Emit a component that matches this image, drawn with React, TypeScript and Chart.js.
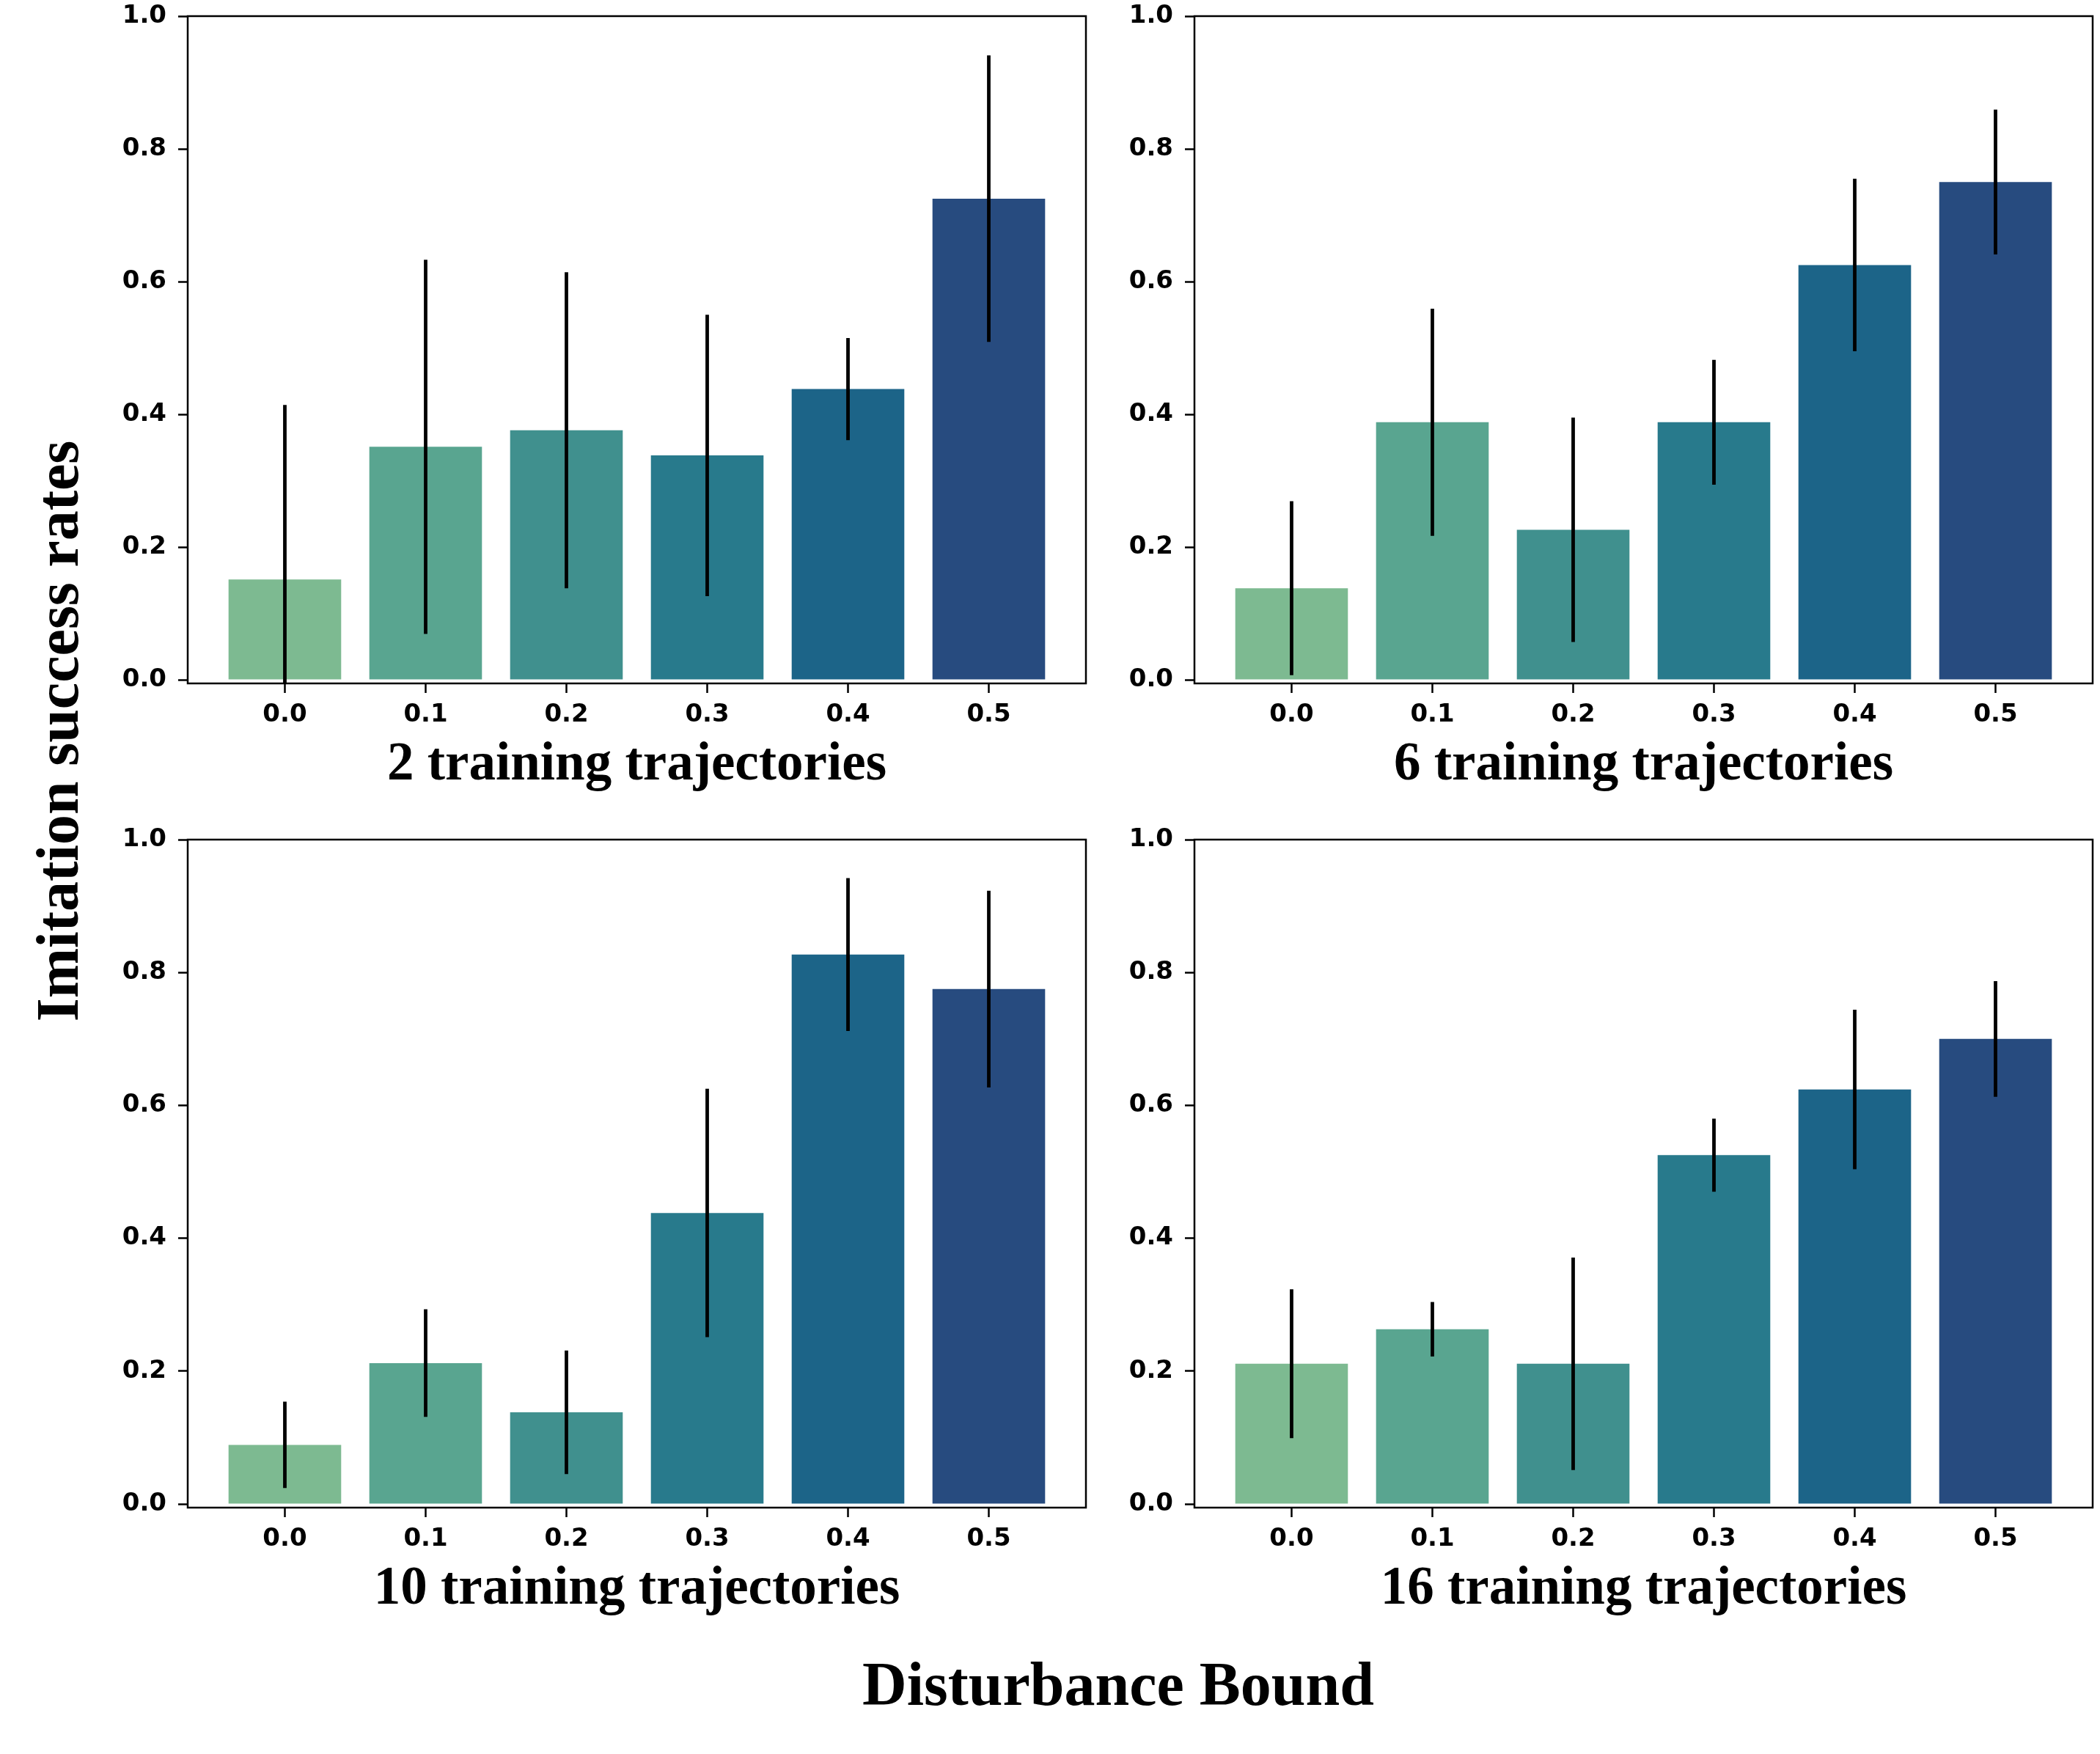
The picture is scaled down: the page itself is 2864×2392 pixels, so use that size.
import { useEffect, useRef } from "react"
import { Chart, registerables } from "chart.js"

Chart.register(...registerables)

// disturbance bounds (bar positions) and their tick labels
const boundIndex = [0, 1, 2, 3, 4, 5]
const boundLabels = ["0.0", "0.1", "0.2", "0.3", "0.4", "0.5"]
const yTicks = [0, 0.2, 0.4, 0.6, 0.8, 1.0]
const yTickLabels = ["0.0", "0.2", "0.4", "0.6", "0.8", "1.0"]

// seaborn "crest"-like palette, one colour per bound
const barColors = ["#7dba91", "#59a590", "#40908e", "#287a8c", "#1c6488", "#274b7f"]

// success rate means and error bar half-widths
const rates2 = [0.151, 0.351, 0.376, 0.338, 0.438, 0.725]
const errors2 = [0.263, 0.282, 0.238, 0.212, 0.077, 0.216]
const rates6 = [0.138, 0.388, 0.226, 0.388, 0.625, 0.75]
const errors6 = [0.131, 0.171, 0.169, 0.094, 0.13, 0.109]
const rates10 = [0.089, 0.212, 0.138, 0.438, 0.827, 0.775]
const errors10 = [0.065, 0.081, 0.093, 0.187, 0.115, 0.148]
const rates16 = [0.211, 0.263, 0.211, 0.525, 0.624, 0.7]
const errors16 = [0.112, 0.041, 0.16, 0.055, 0.12, 0.087]

const panelTitles = [
  "2 training trajectories",
  "6 training trajectories",
  "10 training trajectories",
  "16 training trajectories",
]

const SERIF = '"Liberation Serif", "Times New Roman", serif'
const SANS = '"DejaVu Sans", sans-serif'

// layout (pixels)
const AXES_W = 1225
const Y_AXIS_W = 110
const PAD_TOP = 60
const PAD_RIGHT = 12
const X_AXIS_H = 156

type PanelProps = {
  title: string
  rates: number[]
  errors: number[]
  left: number
  top: number
  height: number
}

function Panel({ title, rates, errors, left, top, height }: PanelProps) {
  const chartRef = useRef<HTMLCanvasElement>(null)
  const chartInstance = useRef<Chart | null>(null)

  useEffect(() => {
    if (!chartRef.current) return
    if (chartInstance.current) chartInstance.current.destroy()

    const errorBars = {
      id: "errorBars",
      afterDatasetsDraw(chart: any) {
        const { ctx, chartArea, scales } = chart
        ctx.save()
        ctx.beginPath()
        ctx.rect(chartArea.left, chartArea.top, chartArea.right - chartArea.left, chartArea.bottom - chartArea.top)
        ctx.clip()
        ctx.strokeStyle = "#000"
        ctx.lineWidth = 4.8
        boundIndex.forEach((b, i) => {
          const x = scales.x.getPixelForValue(b)
          const y1 = scales.y.getPixelForValue(rates[i] + errors[i])
          const y2 = scales.y.getPixelForValue(rates[i] - errors[i])
          ctx.beginPath()
          ctx.moveTo(x, y1)
          ctx.lineTo(x, y2)
          ctx.stroke()
        })
        ctx.restore()
      },
    }

    const frame = {
      id: "frame",
      afterDraw(chart: any) {
        const { ctx, chartArea } = chart
        ctx.save()
        ctx.strokeStyle = "#000"
        ctx.lineWidth = 2.5
        ctx.strokeRect(chartArea.left, chartArea.top, chartArea.right - chartArea.left, chartArea.bottom - chartArea.top)
        ctx.restore()
      },
    }

    chartInstance.current = new Chart(chartRef.current, {
      type: "bar",
      data: {
        datasets: [
          {
            data: boundIndex.map((b, i) => ({ x: b, y: rates[i] })),
            backgroundColor: barColors,
            borderWidth: 0,
            barPercentage: 0.8,
            categoryPercentage: 1.0,
          },
        ],
      },
      options: {
        animation: false,
        responsive: true,
        maintainAspectRatio: false,
        layout: { padding: { top: PAD_TOP, right: PAD_RIGHT, left: 0, bottom: 0 } },
        plugins: {
          legend: { display: false },
          tooltip: { enabled: false },
        },
        scales: {
          x: {
            type: "linear",
            offset: false,
            min: -0.69,
            max: 5.69,
            afterBuildTicks: (scale: any) => {
              scale.ticks = boundIndex.map((v) => ({ value: v }))
            },
            afterFit: (scale: any) => {
              scale.height = X_AXIS_H
            },
            ticks: {
              color: "#000",
              padding: 10,
              maxRotation: 0,
              autoSkip: false,
              font: { family: SANS, weight: "bold", size: 34 },
              callback: (value: any) => boundLabels[Math.round(Number(value))],
            },
            grid: {
              offset: false,
              drawOnChartArea: false,
              drawTicks: true,
              tickLength: 13,
              tickWidth: 2.5,
              tickColor: "#000",
            },
            border: { display: false },
            title: {
              display: true,
              text: title,
              color: "#000",
              padding: 0,
              font: { family: SERIF, weight: "bold", size: 73, lineHeight: 1.2 },
            },
          },
          y: {
            min: -0.0055,
            max: 1.0,
            afterBuildTicks: (scale: any) => {
              scale.ticks = yTicks.map((v) => ({ value: v }))
            },
            afterFit: (scale: any) => {
              scale.width = Y_AXIS_W
            },
            ticks: {
              color: "#000",
              padding: 16,
              font: { family: SANS, weight: "bold", size: 34 },
              callback: (_value: any, index: number) => yTickLabels[index],
            },
            grid: {
              drawOnChartArea: false,
              drawTicks: true,
              tickLength: 13,
              tickWidth: 2.5,
              tickColor: "#000",
            },
            border: { display: false },
          },
        },
      },
      plugins: [errorBars, frame],
    })

    return () => {
      if (chartInstance.current) {
        chartInstance.current.destroy()
        chartInstance.current = null
      }
    }
  }, [title, rates, errors])

  return (
    <div
      style={{
        position: "absolute",
        left: left - Y_AXIS_W,
        top: top - PAD_TOP,
        width: Y_AXIS_W + AXES_W + PAD_RIGHT,
        height: PAD_TOP + height + X_AXIS_H,
      }}
    >
      <canvas ref={chartRef} />
    </div>
  )
}

export default function App() {
  const panels = [
    { rates: rates2, errors: errors2, left: 256, top: 22, height: 910 },
    { rates: rates6, errors: errors6, left: 1629, top: 22, height: 910 },
    { rates: rates10, errors: errors10, left: 256, top: 1145, height: 911 },
    { rates: rates16, errors: errors16, left: 1629, top: 1145, height: 911 },
  ]

  return (
    <div
      style={{
        position: "absolute",
        left: 0,
        top: 0,
        width: 2864,
        height: 2392,
        background: "#fff",
        overflow: "hidden",
      }}
    >
      {panels.map((p, i) => (
        <Panel key={i} title={panelTitles[i]} {...p} />
      ))}
      <div
        style={{
          position: "absolute",
          left: 79,
          top: 997,
          transform: "translate(-50%, -50%) rotate(-90deg)",
          fontFamily: SERIF,
          fontWeight: "bold",
          fontSize: 82,
          lineHeight: 1,
          whiteSpace: "nowrap",
          color: "#000",
        }}
      >
        Imitation success rates
      </div>
      <div
        style={{
          position: "absolute",
          left: 1525,
          top: 2255,
          transform: "translateX(-50%)",
          fontFamily: SERIF,
          fontWeight: "bold",
          fontSize: 84,
          lineHeight: 1,
          whiteSpace: "nowrap",
          color: "#000",
        }}
      >
        Disturbance Bound
      </div>
    </div>
  )
}
